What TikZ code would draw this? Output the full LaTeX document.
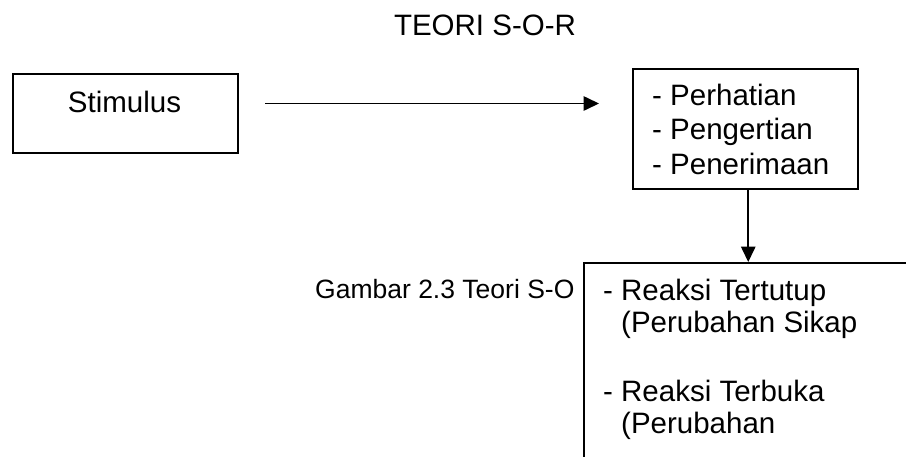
\documentclass[tikz,border=0pt]{standalone}
\usepackage{fontspec}
\setmainfont{Liberation Sans}
\usetikzlibrary{arrows.meta}
\tikzset{
  box/.style={draw=black, line width=1.5pt, fill=none, inner sep=0pt},
  txt/.style={inner sep=0pt, font=\fontsize{29.5}{34}\selectfont},
  captxt/.style={inner sep=0pt, font=\fontsize{26.5}{30}\selectfont},
  arr/.style={line width=1.6pt, -{Triangle[length=15.5pt,width=14.5pt]}}
}
\begin{document}
\begin{tikzpicture}[x=1pt,y=-1pt]
\clip (0,0) rectangle (906,456);
\fill[white] (0,0) rectangle (906,456);
% title
\node[txt, anchor=base] (title) at (485,35) {TEORI S-O-R};
% stimulus box
\node[box, anchor=north west, minimum width=225pt, minimum height=79pt] (stim) at (12,73) {};
\node[txt, anchor=base] (stimtxt) at (124.5,112) {Stimulus};
% middle box
\node[box, anchor=north west, minimum width=225pt, minimum height=120pt] (mid) at (632,68) {};
\node[txt, anchor=base west] (m1) at (652,105) {- Perhatian};
\node[txt, anchor=base west] (m2) at (652,139.5) {- Pengertian};
\node[txt, anchor=base west] (m3) at (652,174) {- Penerimaan};
% bottom box (clipped)
\node[box, anchor=north west, minimum width=400pt, minimum height=260pt] (bot) at (583,262) {};
\node[txt, anchor=base west] (b1) at (603,300) {- Reaksi Tertutup};
\node[txt, anchor=base west] (b2) at (621,332) {(Perubahan Sikap};
\node[txt, anchor=base west] (b3) at (603,401) {- Reaksi Terbuka};
\node[txt, anchor=base west] (b4) at (621,433) {(Perubahan};
% caption
\node[captxt, anchor=base west] (cap) at (315,298) {Gambar 2.3 Teori S-O};
% connectors
\coordinate (a1) at (265,103.5);
\coordinate (a2) at (599,103.5);
\draw[arr] (a1) -- (a2);
\coordinate (d) at ([xshift=3pt]mid.south);
\draw[arr] (d) -- (d |- bot.north);
\end{tikzpicture}
\end{document}
